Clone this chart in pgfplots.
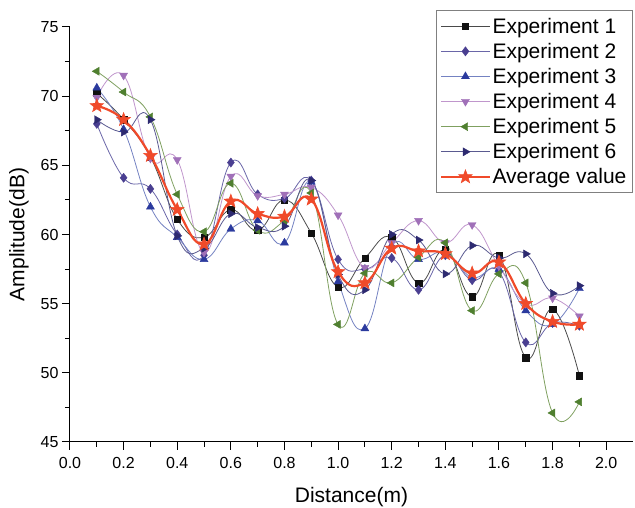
\documentclass[border=0pt]{standalone}
\usepackage{pgfplots}
\pgfplotsset{compat=1.18}
\usepackage{pgfplotstable}
\usepackage{fontspec}
\setmainfont{Liberation Sans}
\definecolor{cA}{HTML}{111111}
\definecolor{cAl}{HTML}{4A4A4A}
\definecolor{cB}{HTML}{4A3F91}
\definecolor{cBl}{HTML}{6A66A8}
\definecolor{cC}{HTML}{2B3A9E}
\definecolor{cCl}{HTML}{7482C2}
\definecolor{cD}{HTML}{A070B8}
\definecolor{cDl}{HTML}{C096CC}
\definecolor{cE}{HTML}{4F7F2F}
\definecolor{cEl}{HTML}{7FA060}
\definecolor{cF}{HTML}{2D2A70}
\definecolor{cFl}{HTML}{5A5A90}
\definecolor{cAvg}{HTML}{F04A2A}
\pgfdeclareplotmark{fstar}{%
  \pgfpathmoveto{\pgfpointpolar{90}{\pgfplotmarksize}}%
  \pgfpathlineto{\pgfpointpolar{126}{0.42\pgfplotmarksize}}%
  \pgfpathlineto{\pgfpointpolar{162}{\pgfplotmarksize}}%
  \pgfpathlineto{\pgfpointpolar{198}{0.42\pgfplotmarksize}}%
  \pgfpathlineto{\pgfpointpolar{234}{\pgfplotmarksize}}%
  \pgfpathlineto{\pgfpointpolar{270}{0.42\pgfplotmarksize}}%
  \pgfpathlineto{\pgfpointpolar{306}{\pgfplotmarksize}}%
  \pgfpathlineto{\pgfpointpolar{342}{0.42\pgfplotmarksize}}%
  \pgfpathlineto{\pgfpointpolar{18}{\pgfplotmarksize}}%
  \pgfpathlineto{\pgfpointpolar{54}{0.42\pgfplotmarksize}}%
  \pgfpathclose\pgfusepathqfillstroke}
\pgfplotstableread{
x e1 e2 e3 e4 e5 e6 avg
0.1 70.2 68.0 70.6 69.9 71.8 68.3 69.3
0.2 68.3 64.1 67.6 71.5 70.3 67.4 68.3
0.3 65.6 63.3 62.0 65.5 68.5 68.3 65.7
0.4 61.1 60.0 59.8 65.4 62.9 59.9 61.8
0.5 59.8 58.5 58.2 58.7 60.2 59.0 59.3
0.6 61.8 65.2 60.4 64.2 63.7 61.5 62.4
0.7 60.3 62.9 61.0 62.8 60.3 60.5 61.5
0.8 62.5 62.6 59.4 62.9 61.0 60.6 61.3
0.9 60.1 63.9 63.8 63.4 63.0 63.9 62.55
1.0 56.2 58.2 56.6 61.4 53.5 57.1 57.3
1.1 58.3 57.5 53.2 57.6 57.2 56.0 56.5
1.2 59.8 58.3 59.2 59.4 56.5 60.0 59.0
1.3 56.5 56.0 58.2 61.0 58.35 59.6 58.8
1.4 58.9 58.5 58.7 59.4 59.4 57.15 58.6
1.5 55.5 56.7 56.9 60.7 54.5 59.2 57.2
1.6 58.5 57.3 57.5 57.7 57.15 58.3 58.0
1.7 51.1 52.2 54.5 55.0 56.5 58.6 55.0
1.8 54.6 53.6 53.5 55.4 47.1 55.75 53.7
1.9 49.8 53.4 56.1 54.1 47.9 56.3 53.5
}\data
\begin{document}
\begin{tikzpicture}
\useasboundingbox (-70pt,-66pt) rectangle (565pt,442pt);
\begin{axis}[
  at={(0pt,0pt)}, anchor=south west,
  scale only axis, width=563pt, height=415pt,
  xmin=0, xmax=2.1, ymin=45, ymax=75,
  axis lines=left,
  axis line style={-, line width=1pt, black},
  every outer x axis line/.append style={-},
  every outer y axis line/.append style={-},
  xtick={0,0.2,0.4,0.6,0.8,1.0,1.2,1.4,1.6,1.8,2.0},
  ytick={45,50,55,60,65,70,75},
  minor x tick num=1, minor y tick num=1,
  tick align=outside,
  major tick length=8pt, minor tick length=5pt,
  every tick/.style={black, line width=1pt},
  /pgf/number format/assume math mode=true,
  xticklabel style={yshift=-4pt, /pgf/number format/fixed, /pgf/number format/fixed zerofill, /pgf/number format/precision=1},
  tick label style={font=\fontsize{16}{18}\selectfont},
  label style={font=\fontsize{21}{24}\selectfont},
  xlabel={Distance(m)}, ylabel={Amplitude(dB)},
  xlabel style={yshift=-12pt},
  ylabel style={yshift=5pt},
  legend style={at={(axis description cs:0.650,1.041)}, anchor=north west,
    draw=gray, line width=0.8pt, fill=white,
    font=\fontsize{21}{25}\selectfont, row sep=4.4pt, inner xsep=4pt, inner ysep=5.5pt},
  legend cell align=left,
  legend image code/.code={\draw[mark repeat=2,mark phase=2,#1] plot coordinates {(0pt,0pt) (24pt,0pt) (48pt,0pt)};},
  every axis plot/.append style={smooth, tension=0.75},
  clip=false,
]
\addplot[cAl, line width=0.8pt, mark=square*, mark size=3.2pt, mark options={fill=cA, draw=cA, line width=0.4pt}] table[x=x,y=e1]{\data};
\addlegendentry{Experiment 1}
\addplot[cBl, line width=0.8pt, mark=diamond*, mark size=4.6pt, mark options={fill=cB, draw=cB, line width=0.4pt}] table[x=x,y=e2]{\data};
\addlegendentry{Experiment 2}
\addplot[cCl, line width=0.8pt, mark=triangle*, mark size=4.6pt, mark options={fill=cC, draw=cC, line width=0.4pt}] table[x=x,y=e3]{\data};
\addlegendentry{Experiment 3}
\addplot[cDl, line width=0.8pt, mark=triangle*, mark size=4.6pt, mark options={fill=cD, draw=cD, line width=0.4pt, rotate=180}] table[x=x,y=e4]{\data};
\addlegendentry{Experiment 4}
\addplot[cEl, line width=0.8pt, mark=triangle*, mark size=4.6pt, mark options={fill=cE, draw=cE, line width=0.4pt, rotate=90}] table[x=x,y=e5]{\data};
\addlegendentry{Experiment 5}
\addplot[cFl, line width=0.8pt, mark=triangle*, mark size=4.6pt, mark options={fill=cF, draw=cF, line width=0.4pt, rotate=-90}] table[x=x,y=e6]{\data};
\addlegendentry{Experiment 6}
\addplot[cAvg, line width=2.2pt, mark=fstar, mark size=7pt, mark options={fill=cAvg, draw=cAvg, line width=0.6pt}] table[x=x,y=avg]{\data};
\addlegendentry{Average value}
\end{axis}
\end{tikzpicture}
\end{document}
